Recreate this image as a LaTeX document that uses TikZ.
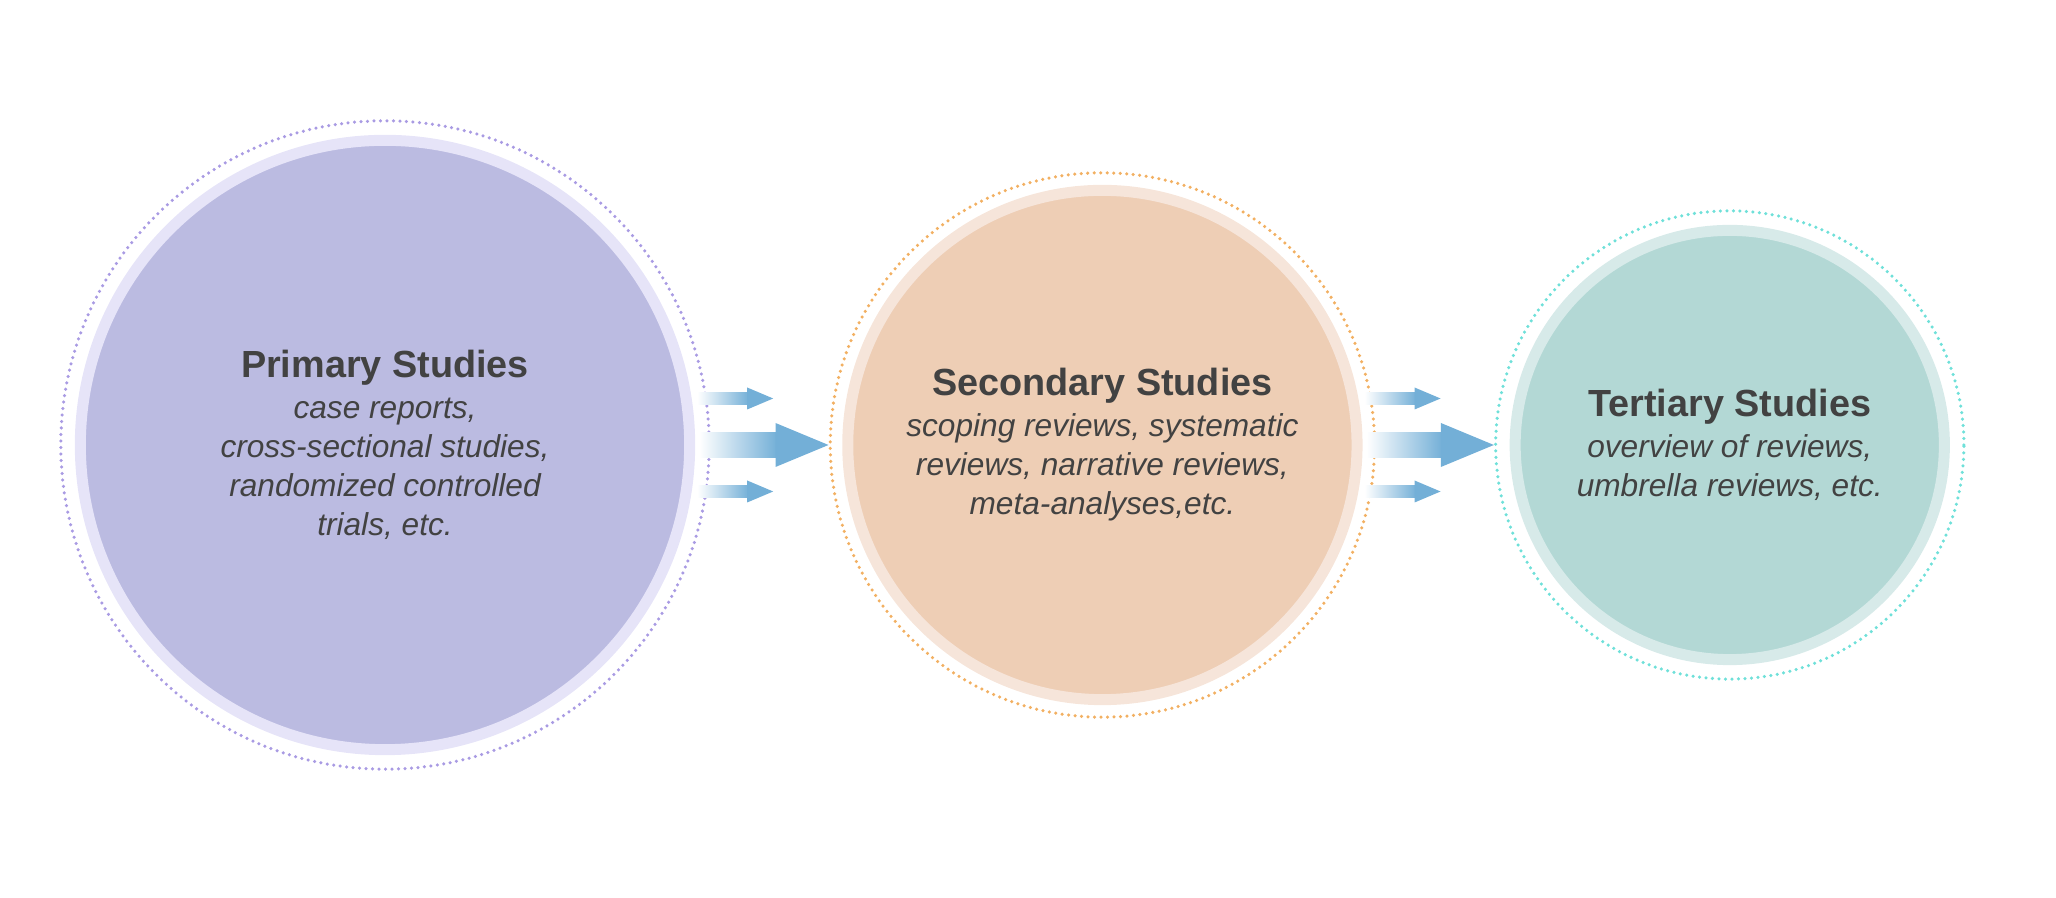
\documentclass[tikz,border=0pt]{standalone}
\usepackage{fontspec}
\setmainfont{Liberation Sans}
\usepackage{xcolor}
\usepackage{tikz}
\usetikzlibrary{positioning, calc}
\definecolor{PrimFill}{HTML}{BBBBE1}
\definecolor{PrimRing}{HTML}{E6E4F8}
\definecolor{PrimDots}{HTML}{A99BE3}
\definecolor{SecFill}{HTML}{EECEB5}
\definecolor{SecRing}{HTML}{F6E5DA}
\definecolor{SecDots}{HTML}{F2B062}
\definecolor{TerFill}{HTML}{B3D8D5}
\definecolor{TerRing}{HTML}{D7EAE9}
\definecolor{TerDots}{HTML}{6FE0D9}
\definecolor{ArrowBlue}{HTML}{73AFD7}
\definecolor{TextGrey}{HTML}{424242}
\newcommand{\studytitle}[1]{{\fontsize{10.75}{12}\selectfont\upshape\bfseries #1}}

\begin{document}
\begin{tikzpicture}[x=0.01cm, y=-0.01cm,
    studydisc/.style={circle, line width=0.11cm, text=TextGrey, align=center,
      font=\fontsize{9}{11.1}\selectfont\itshape},
    dotring/.style={circle, line width=0.035cm, dash pattern=on 0pt off 0.065cm, line cap=round}]
        \useasboundingbox (0,0) rectangle (2056,898);
        \node (prim) at (385,445) [studydisc, fill=PrimFill, draw=PrimRing, minimum size=6.09cm]
          {\studytitle{Primary Studies}\\[0.5pt] case reports,\\ cross-sectional studies,\\ randomized controlled\\ trials, etc.};
        \node (sec) [right=1.47cm of prim, studydisc, fill=SecFill, draw=SecRing, minimum size=5.09cm]
          {\studytitle{Secondary Studies}\\[0.5pt] scoping reviews, systematic\\ reviews, narrative reviews,\\ meta-analyses,etc.};
        \node (ter) [right=1.47cm of sec, studydisc, fill=TerFill, draw=TerRing, minimum size=4.29cm]
          {\studytitle{Tertiary Studies}\\[0.5pt] overview of reviews,\\ umbrella reviews, etc.};
        \node (primdots) at (prim) [dotring, draw=PrimDots, minimum size=6.48cm] {};
        \node (secdots) at (sec) [dotring, draw=SecDots, minimum size=5.44cm] {};
        \node (terdots) at (ter) [dotring, draw=TerDots, minimum size=4.68cm] {};
        % arrows between the circles
        \foreach \a/\b in {prim/secdots, sec/terdots} {
          \shade [left color=white, right color=ArrowBlue] ($(\a.east)+(4,-12.5)$) rectangle ($(\b.west)+(-51,12.5)$);
          \fill [ArrowBlue] ($(\b.west)+(-53,-22)$) -- (\b.west) -- ($(\b.west)+(-53,22)$) -- cycle;
          \foreach \dy in {-46.5, 46.5} {
            \shade [left color=white, right color=ArrowBlue] ($(\a.east)+(2,\dy-6)$) rectangle ($(\a.east)+(54,\dy+6)$);
            \fill [ArrowBlue] ($(\a.east)+(52,\dy-11)$) -- ($(\a.east)+(78,\dy)$) -- ($(\a.east)+(52,\dy+11)$) -- cycle;
          }
        }
      \end{tikzpicture}
\end{document}
